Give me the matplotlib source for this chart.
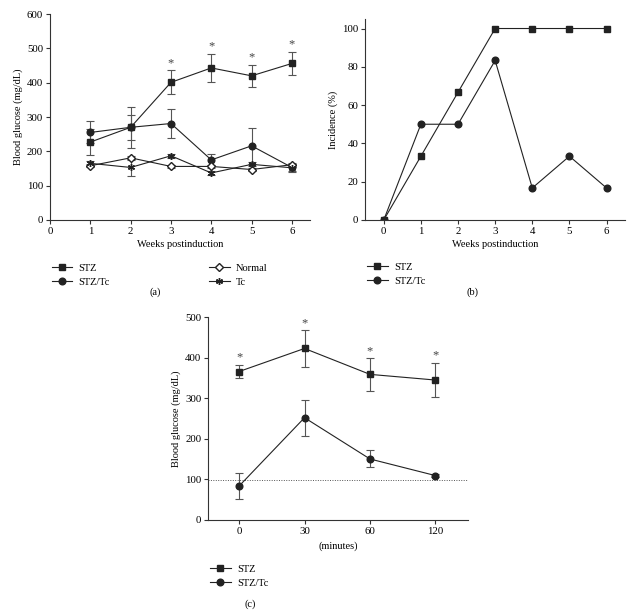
import numpy as np
import matplotlib.pyplot as plt
from matplotlib.lines import Line2D

plt.rcParams['font.family'] = ['Liberation Serif', 'DejaVu Serif']
plt.rcParams['font.size'] = 7.5

# (a) blood glucose over weeks
weeks = [1, 2, 3, 4, 5, 6]
stz_a = [227, 270, 401, 443, 420, 456]
stz_a_err = [38, 59, 35, 41, 33, 33]
stztc_a = [255, 270, 281, 175, 216, 153]
stztc_a_err = [32, 36, 41, 18, 52, 10]
normal_a = [158, 181, 156, 156, 147, 161]
normal_a_err = [5, 6, 4, 5, 5, 6]
tc_a = [165, 153, 187, 137, 162, 152]
tc_a_err = [6, 24, 5, 6, 6, 12]
stars_a = [3, 4, 5, 6]

# (b) incidence
weeks_b = [0, 1, 2, 3, 4, 5, 6]
stz_b = [0, 33.3, 66.7, 100, 100, 100, 100]
stztc_b = [0, 50, 50, 83.3, 16.7, 33.3, 16.7]

# (c) glucose tolerance
minutes = ['0', '30', '60', '120']
stz_c = [366, 423, 359, 345]
stz_c_err = [17, 45, 40, 42]
stztc_c = [83, 252, 150, 109]
stztc_c_err = [33, 44, 21, 3]
normal_line = 97

fig = plt.figure(figsize=(6.34, 6.11), dpi=100)

lc = '#222222'
ec = '#555555'
eb = dict(color=lc, lw=0.8, ecolor=ec, elinewidth=0.8, capsize=3, capthick=0.8)

# marker styles per group
styles = {
    'STZ': dict(marker='s', ms=4.5, mfc=lc),
    'STZ/Tc': dict(marker='o', ms=4.8, mfc=lc),
    'Normal': dict(marker='D', ms=4, mfc='white'),
    'Tc': dict(marker=(6, 2, 0), ms=5, mfc=lc),
}


def handle(name):
    return Line2D([], [], color=lc, lw=0.8, mec=lc, **styles[name])


def style(ax):
    for s in ['top', 'right']:
        ax.spines[s].set_visible(False)
    for s in ['left', 'bottom']:
        ax.spines[s].set_linewidth(0.8)
        ax.spines[s].set_color('#333333')
    ax.tick_params(direction='out', length=3, width=0.8, color='#333333', labelsize=7.8, pad=2)


leg_kw = dict(frameon=False, loc='upper left', handlelength=2.0, handletextpad=0.6,
              labelspacing=0.45, fontsize=7.5)

# --- panel (a)
ax = fig.add_axes([0.079, 0.640, 0.410, 0.337])
ax.errorbar(weeks, stz_a, yerr=stz_a_err, mec=lc, **styles['STZ'], **eb)
ax.errorbar(weeks, stztc_a, yerr=stztc_a_err, mec=lc, **styles['STZ/Tc'], **eb)
ax.errorbar(weeks, normal_a, yerr=normal_a_err, mec=lc, **styles['Normal'], **eb)
ax.errorbar(weeks, tc_a, yerr=tc_a_err, mec=lc, **styles['Tc'], **eb)
for w in stars_a:
    i = weeks.index(w)
    ax.text(w, stz_a[i] + stz_a_err[i] + 4, '*', ha='center', va='bottom', fontsize=9, color='#444444')
ax.set_xlim(0, 6.45)
ax.set_ylim(0, 600)
ax.set_xticks(range(0, 7))
ax.set_yticks(range(0, 601, 100))
ax.set_xlabel('Weeks postinduction', labelpad=3)
ax.set_ylabel('Blood glucose (mg/dL)', labelpad=3)
style(ax)
names = ['STZ', 'STZ/Tc', 'Normal', 'Tc']
ax.legend([handle(n) for n in names], names, ncol=2, columnspacing=9.5,
          bbox_to_anchor=(-0.03, -0.165), **leg_kw)
fig.text(0.245, 0.521, '(a)', ha='center', va='center', fontsize=7.5)

# --- panel (b)
ax = fig.add_axes([0.576, 0.640, 0.410, 0.329])
ax.plot(weeks_b, stz_b, color=lc, lw=0.8, mec=lc, **styles['STZ'])
ax.plot(weeks_b, stztc_b, color=lc, lw=0.8, mec=lc, **styles['STZ/Tc'])
ax.set_xlim(-0.5, 6.5)
ax.set_ylim(0, 105)
ax.set_xticks(weeks_b)
ax.set_yticks(range(0, 101, 20))
ax.set_xlabel('Weeks postinduction', labelpad=3)
ax.set_ylabel('Incidence (%)', labelpad=3)
style(ax)
ax.legend([handle('STZ'), handle('STZ/Tc')], ['STZ', 'STZ/Tc'],
          bbox_to_anchor=(-0.03, -0.165), **leg_kw)
fig.text(0.746, 0.521, '(b)', ha='center', va='center', fontsize=7.5)

# --- panel (c)
ax = fig.add_axes([0.3285, 0.1494, 0.410, 0.3313])
xc = np.arange(len(minutes))
ax.axhline(normal_line, color='#555555', lw=0.7, ls=(0, (1, 1.5)))
ax.errorbar(xc, stz_c, yerr=stz_c_err, mec=lc, **styles['STZ'], **eb)
ax.errorbar(xc, stztc_c, yerr=stztc_c_err, mec=lc, **styles['STZ/Tc'], **eb)
for i in range(len(minutes)):
    ax.text(xc[i], stz_c[i] + stz_c_err[i] + 3, '*', ha='center', va='bottom', fontsize=9, color='#444444')
ax.set_xlim(-0.47, 3.5)
ax.set_ylim(0, 500)
ax.set_xticks(xc)
ax.set_xticklabels(minutes)
ax.set_yticks(range(0, 501, 100))
ax.set_xlabel('(minutes)', labelpad=4)
ax.set_ylabel('Blood glucose (mg/dL)', labelpad=3)
style(ax)
ax.legend([handle('STZ'), handle('STZ/Tc')], ['STZ', 'STZ/Tc'],
          bbox_to_anchor=(-0.03, -0.175), **leg_kw)
fig.text(0.395, 0.0115, '(c)', ha='center', va='center', fontsize=7.5)

fig.savefig('out.png', dpi=100)
